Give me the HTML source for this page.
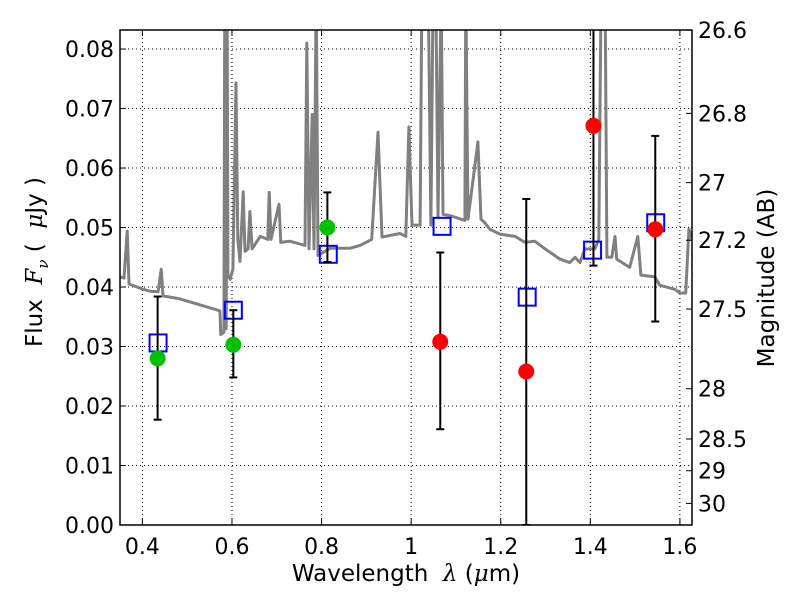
<!DOCTYPE html>
<html><head><meta charset="utf-8"><style>
body{margin:0;background:#fff;}
svg{display:block;font-family:"DejaVu Sans","Liberation Sans",sans-serif;}
</style></head><body>
<svg id="chart" width="800" height="600" xmlns="http://www.w3.org/2000/svg"></svg>
<script>
const specLam=[0.350,0.359,0.366,0.370,0.399,0.417,0.435,0.442,0.446,0.484,0.529,0.573,0.575,0.582,0.584,0.587,0.589,0.591,0.596,0.602,0.609,0.613,0.618,0.625,0.629,0.636,0.640,0.645,0.663,0.680,0.683,0.687,0.705,0.709,0.729,0.763,0.767,0.772,0.779,0.783,0.788,0.792,0.819,0.863,0.886,0.912,0.926,0.935,0.975,0.988,0.995,1.002,1.020,1.024,1.038,1.044,1.049,1.055,1.060,1.067,1.071,1.087,1.120,1.122,1.127,1.149,1.156,1.162,1.176,1.198,1.232,1.254,1.276,1.299,1.332,1.354,1.366,1.377,1.388,1.410,1.419,1.424,1.433,1.437,1.448,1.455,1.459,1.488,1.506,1.513,1.544,1.555,1.589,1.600,1.613,1.620,1.627];
const specFlux=[0.0417,0.0415,0.0494,0.0405,0.0397,0.0393,0.0392,0.0430,0.0385,0.0380,0.0370,0.0360,0.0320,0.0324,0.09,0.0330,0.09,0.0420,0.0413,0.0430,0.0743,0.0480,0.0443,0.0560,0.0460,0.0464,0.0527,0.0464,0.0485,0.0480,0.0559,0.0480,0.0539,0.0475,0.0477,0.0470,0.0810,0.0464,0.0690,0.0464,0.09,0.0453,0.0465,0.0465,0.0470,0.0480,0.0660,0.0484,0.0490,0.0485,0.0669,0.0504,0.0504,0.09,0.09,0.0504,0.09,0.09,0.0517,0.09,0.0522,0.0520,0.0512,0.09,0.0514,0.0644,0.0514,0.0510,0.0497,0.0489,0.0485,0.0475,0.0477,0.0464,0.0447,0.0441,0.0450,0.0441,0.0464,0.0464,0.0480,0.09,0.09,0.0450,0.0450,0.0485,0.0447,0.0433,0.0485,0.0420,0.0417,0.0403,0.0396,0.0390,0.0390,0.0497,0.0480];
const greenLam=[0.434,0.603,0.813];
const greenFlux=[0.0280,0.0303,0.0500];
const greenLo=[0.0177,0.0248,0.0442];
const greenHi=[0.0384,0.0361,0.0559];
const redLam=[1.065,1.257,1.407,1.545];
const redFlux=[0.0308,0.0258,0.0671,0.0497];
const redLo=[0.0161,0.0,0.0436,0.0342];
const redHi=[0.0458,0.0548,0.0900,0.0654];
const sqLam=[0.435,0.603,0.815,1.069,1.259,1.405,1.546];
const sqFlux=[0.0306,0.0361,0.0455,0.0502,0.0383,0.0462,0.0508];
const xTicks=[0.4,0.6,0.8,1.0,1.2,1.4,1.6];
const xTickLabels=["0.4","0.6","0.8","1","1.2","1.4","1.6"];
const yTicks=[0,0.01,0.02,0.03,0.04,0.05,0.06,0.07,0.08];
const yTickLabels=["0.00","0.01","0.02","0.03","0.04","0.05","0.06","0.07","0.08"];
const magTicks=[26.6,26.8,27,27.2,27.5,28,28.5,29,30];
const magTickLabels=["26.6","26.8","27","27.2","27.5","28","28.5","29","30"];

const L=120,R=692,T=30,B=525;
const xmin=0.35,xmax=1.627,ymin=0,ymax=0.0832;
const X=v=>L+(v-xmin)/(xmax-xmin)*(R-L);
const Y=v=>B-(v-ymin)/(ymax-ymin)*(B-T);
const magFlux=m=>Math.pow(10,-(m-23.9)/2.5);
const NS="http://www.w3.org/2000/svg";
const svg=document.getElementById('chart');
function mk(tag,attrs,parent){const e=document.createElementNS(NS,tag);for(const k in attrs)e.setAttribute(k,attrs[k]);(parent||svg).appendChild(e);return e;}

const defs=mk('defs',{});
const cp=mk('clipPath',{id:'clip'},defs);
mk('rect',{x:L,y:T,width:R-L,height:B-T},cp);

xTicks.forEach(v=>{const g=mk('line',{x1:X(v),x2:X(v),y1:T,y2:B,stroke:'#000','stroke-width':1,'stroke-dasharray':'1,3'});

});
yTicks.forEach(v=>{const g=mk('line',{x1:L,x2:R,y1:Y(v),y2:Y(v),stroke:'#000','stroke-width':1,'stroke-dasharray':'1,3'});

});

let d=specLam.map((l,i)=>(i?'L':'M')+X(l).toFixed(1)+','+Y(specFlux[i]).toFixed(1)).join('');
const sp=mk('path',{d:d,fill:'none',stroke:'#808080','stroke-width':3,'stroke-linejoin':'round','clip-path':'url(#clip)'});



sqLam.forEach((l,i)=>{const s=mk('rect',{x:X(l)-8.5,y:Y(sqFlux[i])-8.5,width:17,height:17,fill:'none',stroke:'#0000ff','stroke-width':2});

});

function errbar(l,lo,hi){const g=mk('g',{'clip-path':'url(#clip)'});


const x=X(l);mk('line',{x1:x,x2:x,y1:Y(lo),y2:Y(hi),stroke:'#000','stroke-width':2},g);
[lo,hi].forEach(v=>mk('line',{x1:x-4,x2:x+4,y1:Y(v),y2:Y(v),stroke:'#000','stroke-width':2},g));}
greenLam.forEach((l,i)=>errbar(l,greenLo[i],greenHi[i]));
redLam.forEach((l,i)=>errbar(l,redLo[i],redHi[i]));
greenLam.forEach((l,i)=>{const c=mk('circle',{cx:X(l),cy:Y(greenFlux[i]),r:8,fill:'#00c000'});

});
redLam.forEach((l,i)=>{const c=mk('circle',{cx:X(l),cy:Y(redFlux[i]),r:8,fill:'#ff0000'});

});

const fr=mk('rect',{x:L,y:T,width:R-L,height:B-T,fill:'none',stroke:'#000','stroke-width':1.5});



xTicks.forEach((v,i)=>{mk('line',{x1:X(v),x2:X(v),y1:B,y2:B-6,stroke:'#000'});mk('line',{x1:X(v),x2:X(v),y1:T,y2:T+6,stroke:'#000'});
const t=mk('text',{x:X(v),y:B+29,'font-size':22,'text-anchor':'middle'});t.textContent=xTickLabels[i];

});
yTicks.forEach((v,i)=>{mk('line',{x1:L,x2:L+6,y1:Y(v),y2:Y(v),stroke:'#000'});
const t=mk('text',{x:L-6,y:Y(v)+8,'font-size':22,'text-anchor':'end'});t.textContent=yTickLabels[i];

});
magTicks.forEach((m,i)=>{const y=Y(magFlux(m));mk('line',{x1:R-6,x2:R,y1:y,y2:y,stroke:'#000'});
const t=mk('text',{x:R+6,y:y+8,'font-size':22});t.textContent=magTickLabels[i];

});
</script>
<div style="position:absolute;left:0;top:0;width:800px;height:600px;pointer-events:none;">
<div style="position:absolute;left:0;width:812px;top:561px;text-align:center;font:23px 'DejaVu Sans','Liberation Sans',sans-serif;">Wavelength&nbsp; <i style="font-family:'DejaVu Serif',serif">λ</i> (<i style="font-family:'DejaVu Serif',serif">μ</i>m)</div>
<div style="position:absolute;left:37px;top:262px;transform:translate(-50%,-50%) rotate(-90deg);white-space:nowrap;font:23px 'DejaVu Sans','Liberation Sans',sans-serif;">Flux&nbsp; <i style="font-family:'DejaVu Serif',serif">F<sub style="font-size:15px">ν</sub></i> (&nbsp; <i style="font-family:'DejaVu Serif',serif">μ</i>Jy )</div>
<div style="position:absolute;left:767px;top:278px;transform:translate(-50%,-50%) rotate(-90deg);white-space:nowrap;font:23px 'DejaVu Sans','Liberation Sans',sans-serif;">Magnitude (AB)</div>
</div>
</body></html>
